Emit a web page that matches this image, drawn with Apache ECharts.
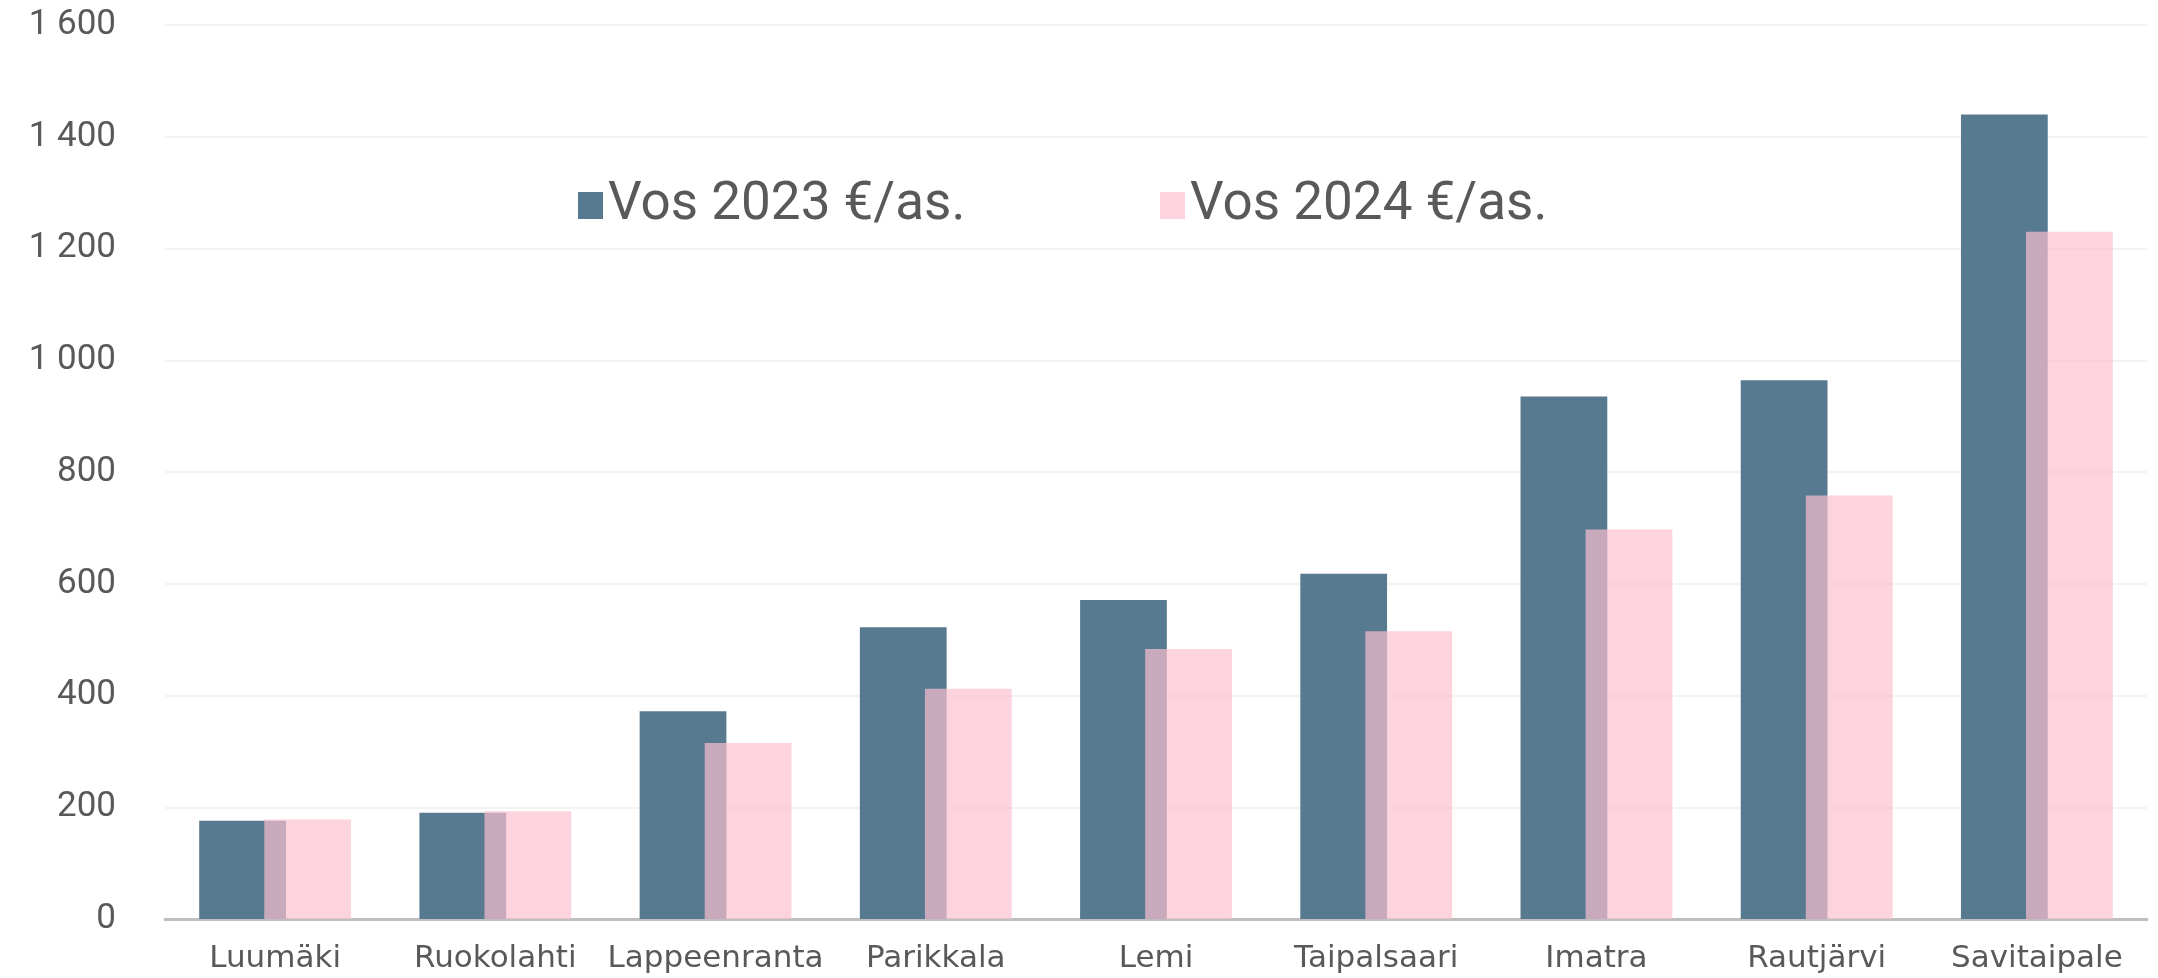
<!DOCTYPE html>
<html>
<head>
<meta charset="utf-8">
<script src="https://cdn.jsdelivr.net/npm/echarts@6/dist/echarts.min.js"></script>
<style>
  html, body { margin: 0; padding: 0; background: #fff; }
  #chart { width: 2158px; height: 978px; }
</style>
</head>
<body>
<div id="chart"></div>
<script>
// 数据
const kunnat = ['Luumäki', 'Ruokolahti', 'Lappeenranta', 'Parikkala', 'Lemi', 'Taipalsaari', 'Imatra', 'Rautjärvi', 'Savitaipale'];
const vos2023 = [176, 190, 372, 522, 571, 618, 935, 964, 1440];
const vos2024 = [178, 193, 315, 412, 483, 515, 697, 758, 1230];
const yTicks = [0, 200, 400, 600, 800, 1000, 1200, 1400, 1600];

const nimi2023 = 'Vos 2023 €/as.';
const nimi2024 = 'Vos 2024 €/as.';

const myChart = echarts.init(document.getElementById('chart'));

const textColor = '#595959';
const font = 'Roboto, "Noto Sans", sans-serif';

const legendBase = {
    top: 174,
    itemWidth: 25,
    itemHeight: 27,
    icon: 'rect',
    textStyle: { color: textColor, fontSize: 53, fontFamily: font }
};

const options = {
    animation: false,
    // 两个图例分开放置
    legend: [
        Object.assign({ data: [nimi2023], left: 573 }, legendBase),
        Object.assign({ data: [nimi2024], left: 1155 }, legendBase)
    ],
    grid: {
        left: 165,
        right: 11,
        top: 25,
        bottom: 59
    },
    xAxis: {
        type: 'category',
        data: kunnat,
        axisTick: { show: false },
        axisLine: { lineStyle: { color: '#bfbfbf', width: 3 } },
        axisLabel: {
            color: textColor,
            fontSize: 31,
            fontFamily: '"DejaVu Sans", sans-serif',
            margin: 24,
            interval: 0
        }
    },
    yAxis: {
        type: 'value',
        min: yTicks[0],
        max: yTicks[yTicks.length - 1],
        interval: 200,
        axisLine: { show: false },
        axisTick: { show: false },
        splitLine: { lineStyle: { color: '#efefef', width: 1.5 } },
        axisLabel: {
            color: textColor,
            fontSize: 35,
            fontFamily: font,
            margin: 49,
            // 千位分隔用空格
            formatter: (v) => String(v).replace(/\B(?=(\d{3})+(?!\d))/g, ' ')
        }
    },
    series: [
        {
            name: nimi2023,
            type: 'bar',
            data: vos2023,
            barWidth: '39.4%',
            barGap: '-25%',
            itemStyle: { color: '#587a90' }
        },
        {
            name: nimi2024,
            type: 'bar',
            data: vos2024,
            barWidth: '39.4%',
            itemStyle: { color: 'rgba(252, 191, 207, 0.69)' }
        }
    ]
};

myChart.setOption(options);
</script>
</body>
</html>
